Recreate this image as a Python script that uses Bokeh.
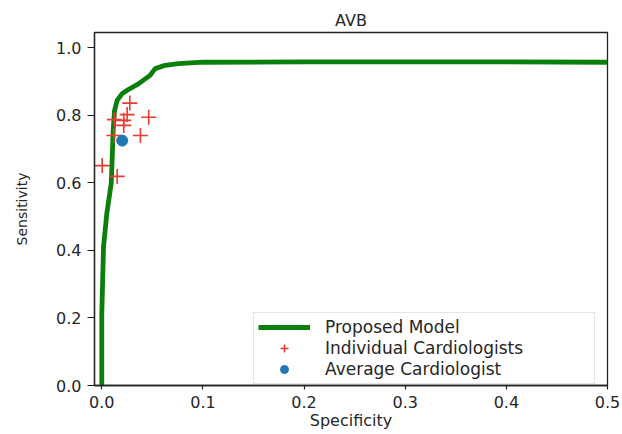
from bokeh.plotting import figure
from bokeh.models import Range1d, Legend, LegendItem, FixedTicker
from bokeh.embed import file_html
from bokeh.resources import INLINE

# ---- data ----
title_text = "AVB"
x_label = "Specificity"
y_label = "Sensitivity"

model_spec = [0.0, 0.0, 0.0017, 0.0050, 0.0094, 0.0103, 0.0113, 0.0126, 0.0152,
              0.0201, 0.0251, 0.0362, 0.0477, 0.0528, 0.0627, 0.0758, 0.1,
              0.2, 0.3, 0.4, 0.5]
model_sens = [0.0, 0.21, 0.41, 0.51, 0.60, 0.676, 0.755, 0.814, 0.844,
              0.864, 0.874, 0.893, 0.918, 0.938, 0.948, 0.953, 0.957,
              0.958, 0.958, 0.958, 0.957]

card_spec = [0.0277, 0.0251, 0.0464, 0.0125, 0.0217, 0.0217, 0.0382, 0.0119, 0.0004, 0.0152]
card_sens = [0.836, 0.802, 0.794, 0.787, 0.785, 0.770, 0.740, 0.740, 0.651, 0.619]

avg_spec = [0.0202]
avg_sens = [0.725]

x_ticks = [0.0, 0.1, 0.2, 0.3, 0.4, 0.5]
x_tick_labels = ["0.0", "0.1", "0.2", "0.3", "0.4", "0.5"]
y_ticks = [0.0, 0.2, 0.4, 0.6, 0.8, 1.0]
y_tick_labels = ["0.0", "0.2", "0.4", "0.6", "0.8", "1.0"]

legend_labels = ["Proposed Model", "Individual Cardiologists", "Average Cardiologist"]

FONT = "DejaVu Sans"
TXT = "#262626"

p = figure(width=622, height=434, output_backend="svg", toolbar_location=None,
           x_range=Range1d(-0.0072, 0.5), y_range=Range1d(0.0, 1.045),
           min_border_left=94, min_border_right=15, min_border_top=32,
           min_border_bottom=49, title=title_text)

p.title.text_font = FONT
p.title.text_font_size = "16px"
p.title.text_font_style = "normal"
p.title.text_color = TXT
p.title.align = "center"
p.title.standoff = 5

p.xgrid.visible = False
p.ygrid.visible = False
p.outline_line_color = "#222222"
p.outline_line_width = 1.3
p.outline_line_alpha = 1.0
p.background_fill_color = "white"
p.border_fill_color = "white"

for ax, ticks, labels, tick_out, standoff in (
        (p.xaxis[0], x_ticks, x_tick_labels, 4, 6),
        (p.yaxis[0], y_ticks, y_tick_labels, 7, 6)):
    ax.ticker = FixedTicker(ticks=ticks)
    ax.major_label_overrides = {t: l for t, l in zip(ticks, labels)}
    ax.major_tick_in = 0
    ax.major_tick_out = tick_out
    ax.minor_tick_line_color = None
    ax.major_label_standoff = standoff
    ax.major_label_text_font = FONT
    ax.major_label_text_font_size = "16px"
    ax.major_label_text_color = TXT
    ax.axis_line_color = "#222222"
    ax.axis_line_width = 1.3
    ax.major_tick_line_color = "#222222"
    ax.major_tick_line_width = 1.2
    ax.axis_label_text_font = FONT
    ax.axis_label_text_font_style = "normal"
    ax.axis_label_text_color = TXT

p.xaxis.axis_label = x_label
p.xaxis.axis_label_text_font_size = "16px"
p.xaxis.axis_label_standoff = 0
p.yaxis.axis_label = y_label
p.yaxis.axis_label_text_font_size = "14px"
p.yaxis.axis_label_standoff = 23

r_line = p.line(model_spec, model_sens, line_color="#0b7f0b", line_width=4.8)
r_cross = p.scatter(card_spec, card_sens, marker="cross", size=15,
                    line_color="#ec3b2f", line_width=1.6)
r_avg = p.scatter(avg_spec, avg_sens, marker="circle", size=11,
                  fill_color="#1f77b4", line_color="#1f77b4")

legend = Legend(items=[LegendItem(label=legend_labels[0], renderers=[r_line]),
                       LegendItem(label=legend_labels[1], renderers=[r_cross]),
                       LegendItem(label=legend_labels[2], renderers=[r_avg])],
                location=(159, 1), margin=0, padding=4, spacing=1,
                glyph_width=52, glyph_height=20, label_height=20,
                label_width=265, label_standoff=15,
                label_text_font=FONT, label_text_font_size="17px",
                label_text_color=TXT,
                border_line_color="#cccccc", border_line_width=1,
                background_fill_color="white", background_fill_alpha=0.85)
p.add_layout(legend)

open("out.html", "w").write(file_html(p, INLINE))
